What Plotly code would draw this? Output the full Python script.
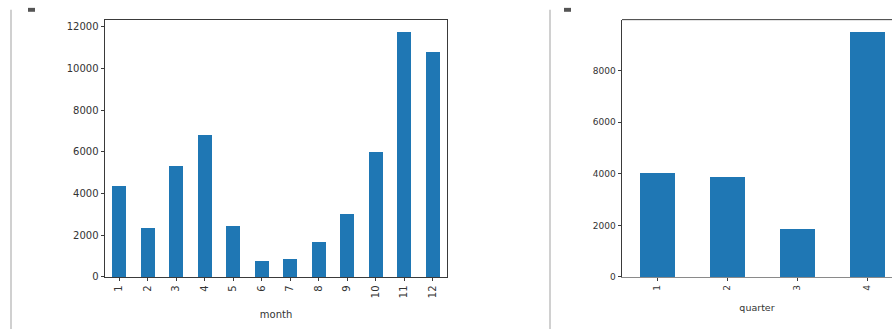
import plotly.graph_objects as go

# Monthly totals and quarterly figures
months = [str(m) for m in range(1, 13)]
month_values = [4400, 2370, 5350, 6850, 2480, 800, 880, 1710, 3050, 6010, 11770, 10810]

quarters = ["1", "2", "3", "4"]
quarter_values = [4030, 3880, 1870, 9510]

month_ticks = [0, 2000, 4000, 6000, 8000, 10000, 12000]
quarter_ticks = [0, 2000, 4000, 6000, 8000]

W, H = 892, 335
BAR = "#1f77b4"
AXIS = "#3a3a3a"
TEXT = "#333333"
FONT = "DejaVu Sans"


def px_x(x):
    return x / W


def px_y(y):
    return 1 - y / H


fig = go.Figure()

fig.add_trace(go.Bar(x=months, y=month_values, marker_color=BAR, marker_line_width=0,
                     width=0.5, xaxis="x", yaxis="y", showlegend=False))
fig.add_trace(go.Bar(x=quarters, y=quarter_values, marker_color=BAR, marker_line_width=0,
                     width=0.5, xaxis="x2", yaxis="y2", showlegend=False))

common_x = dict(type="category", showgrid=False, zeroline=False, showline=True,
                linecolor=AXIS, linewidth=1, ticks="outside", ticklen=3.5,
                tickcolor=AXIS, tickangle=-90, tickfont=dict(family=FONT, size=10, color=TEXT))
common_y = dict(showgrid=False, zeroline=False, showline=True, linecolor=AXIS, linewidth=1,
                ticks="outside", ticklen=3.5, tickcolor=AXIS, tickformat="d",
                tickfont=dict(family=FONT, size=10, color=TEXT))

fig.update_layout(
    width=W, height=H,
    margin=dict(l=0, r=0, t=0, b=0),
    paper_bgcolor="white", plot_bgcolor="white",
    bargap=0,
    xaxis=dict(common_x, domain=[px_x(105), px_x(447)], range=[-0.5, 11.5],
               anchor="y", mirror=True,
               title=dict(text="month", font=dict(family=FONT, size=10, color=TEXT), standoff=13)),
    yaxis=dict(common_y, domain=[px_y(282), px_y(20)], range=[0, 12346],
               tickvals=month_ticks, anchor="x", mirror=True),
    xaxis2=dict(common_x, domain=[px_x(622), 1.0], range=[-0.5, 3.5 - (902 - W) / 70],
                anchor="y2", linecolor="#8a8a8a", mirror=False,
                tickfont=dict(family=FONT, size=9, color=TEXT),
                title=dict(text="quarter", font=dict(family=FONT, size=9.5, color=TEXT), standoff=14)),
    yaxis2=dict(common_y, domain=[px_y(282), px_y(20)], range=[0, 9977],
                tickvals=quarter_ticks, anchor="x2", mirror=False,
                tickfont=dict(family=FONT, size=9, color=TEXT)),
    font=dict(family=FONT, color=TEXT),
)

# Notebook cell borders and collapse markers
shapes = [
    dict(type="line", xref="paper", yref="paper", x0=px_x(11), x1=px_x(11),
         y0=px_y(10), y1=0, line=dict(color="#d0d0d0", width=2)),
    dict(type="line", xref="paper", yref="paper", x0=px_x(550), x1=px_x(550),
         y0=px_y(10), y1=0, line=dict(color="#d0d0d0", width=2)),
    dict(type="rect", xref="paper", yref="paper", x0=px_x(28), x1=px_x(35),
         y0=px_y(12), y1=px_y(8), line_width=0, fillcolor="#555555"),
    dict(type="rect", xref="paper", yref="paper", x0=px_x(564), x1=px_x(571),
         y0=px_y(12), y1=px_y(8), line_width=0, fillcolor="#555555"),
    # top edge of the quarterly frame
    dict(type="line", xref="paper", yref="paper", x0=px_x(622), x1=1.0,
         y0=px_y(20), y1=px_y(20), line=dict(color=AXIS, width=1)),
]
fig.update_layout(shapes=shapes)

fig.write_html("out.html")
